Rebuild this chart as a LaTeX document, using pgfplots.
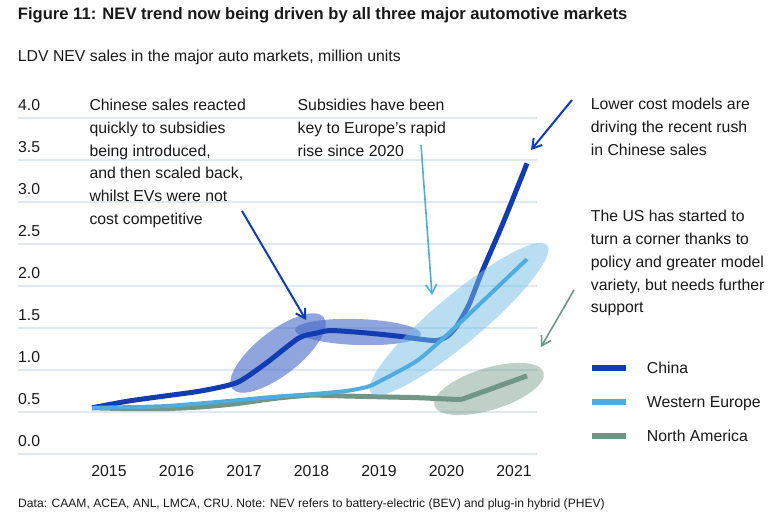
\documentclass[border=0pt]{standalone}
\usepackage{pgfplots}
\pgfplotsset{compat=1.18}
\usetikzlibrary{arrows.meta}
\usepackage{fontspec}
\setmainfont{Liberation Sans}

\definecolor{china}{RGB}{18,60,178}
\definecolor{chinahl}{RGB}{70,105,200}
\definecolor{europe}{RGB}{80,172,222}
\definecolor{namer}{RGB}{112,150,134}
\definecolor{gridc}{RGB}{221,234,244}
\definecolor{txt}{RGB}{25,25,25}
\newcommand\ann{\fontsize{15.8}{22.8}\selectfont}

\begin{document}
\begin{tikzpicture}[x=1pt,y=1pt]
\useasboundingbox (0,0) rectangle (780,521);

\begin{axis}[at={(18pt,67pt)}, anchor=south west,
    scale only axis, width=519pt, height=336pt,
    xmin=2013.979, xmax=2021.138, ymin=0, ymax=4,
    clip=false,
    axis line style={draw=none},
    major tick length=0pt,
    ytick={0,0.5,...,4},
    ymajorgrids,
    grid style={line width=2.5pt, gridc},
    xtick={2015.234,2016.166,2017.097,2018.028,2018.959,2019.890,2020.821},
    xticklabels={2015,2016,2017,2018,2019,2020,2021},
    /pgf/number format/fixed,
    /pgf/number format/fixed zerofill,
    /pgf/number format/precision=1,
    /pgf/number format/assume math mode=true,
    yticklabel style={anchor=west, inner sep=0pt, yshift=12.5pt, font=\ann, text=txt},
    xticklabel style={anchor=center, inner sep=0pt, yshift=-17pt, font=\ann, text=txt},
]
% highlight behind China
\fill[chinahl, opacity=0.6] (axis cs:2017.566,1.202) ellipse [x radius=58pt, y radius=22pt, rotate=38];
\fill[chinahl, opacity=0.6] (axis cs:2018.669,1.452) ellipse [x radius=63pt, y radius=13pt, rotate=-2];
\fill[namer, opacity=0.45] (axis cs:2020.476,0.774) ellipse [x radius=57pt, y radius=21pt, rotate=17];

% North America
\addplot[namer, line width=5pt, smooth, tension=0.4] coordinates {
(2015,0.55) (2015.5,0.54) (2016,0.54) (2016.5,0.56) (2017,0.60) (2017.5,0.66)
(2018,0.70) (2018.5,0.69) (2019,0.68) (2019.5,0.67) (2020,0.65) (2020.1,0.65)};
\addplot[namer, line width=5pt] coordinates {(2020.1,0.65) (2021,0.93)};

% China
\addplot[china, line width=5pt, smooth, tension=0.4] coordinates {
(2015,0.55) (2015.5,0.63) (2016,0.69) (2016.5,0.75) (2017,0.85) (2017.4,1.08)
(2017.85,1.38) (2018.1,1.44) (2018.3,1.47) (2018.8,1.44) (2019.25,1.40)
(2019.5,1.37) (2019.75,1.35) (2019.9,1.40) (2020.03,1.52) (2020.2,1.78)
(2020.37,2.15) (2020.67,2.75) (2021,3.46)};

% Europe highlight and line
\fill[europe!80!white, opacity=0.5] (axis cs:2020.062,1.607) ellipse [x radius=115pt, y radius=24pt, rotate=40];
\addplot[europe, line width=4pt, smooth, tension=0.4] coordinates {
(2015,0.55) (2016,0.57) (2017,0.64) (2017.5,0.68) (2018,0.71) (2018.5,0.75)
(2018.8,0.80) (2019,0.88) (2019.5,1.12) (2020,1.50) (2020.5,1.91) (2021,2.32)};
\end{axis}

% titles
\node[anchor=base west, inner sep=0pt, text=txt, font=\fontsize{16.6}{19}\selectfont\bfseries] at (17.7,501) {Figure 11: NEV trend now being driven by all three major automotive markets};
\node[anchor=base west, inner sep=0pt, text=txt, font=\fontsize{15.8}{18}\selectfont] at (17.7,459.3) {LDV NEV sales in the major auto markets, million units};
\node[anchor=base west, inner sep=0pt, text=txt, font=\fontsize{12.1}{14}\selectfont] at (18,13) {Data: CAAM, ACEA, ANL, LMCA, CRU. Note: NEV refers to battery-electric (BEV) and plug-in hybrid (PHEV)};

% annotations
\foreach \t [count=\i from 0] in {Chinese sales reacted, quickly to subsidies, {being introduced,}, {and then scaled back,}, whilst EVs were not, cost competitive}
  \node[anchor=base west, inner sep=0pt, text=txt, font=\ann] at (89.3,{410.5-22.8*\i}) {\t};
\foreach \t [count=\i from 0] in {Subsidies have been, key to Europe’s rapid, rise since 2020}
  \node[anchor=base west, inner sep=0pt, text=txt, font=\ann] at (297.5,{410.5-22.8*\i}) {\t};
\foreach \t [count=\i from 0] in {Lower cost models are, driving the recent rush, in Chinese sales}
  \node[anchor=base west, inner sep=0pt, text=txt, font=\ann] at (590.7,{411.2-22.8*\i}) {\t};
\foreach \t [count=\i from 0] in {The US has started to, turn a corner thanks to, policy and greater model, {variety, but needs further}, support}
  \node[anchor=base west, inner sep=0pt, text=txt, font=\ann] at (590.7,{299.3-22.8*\i}) {\t};

% arrows
\draw[china, line width=2pt, -{Straight Barb[length=9pt,width=11pt]}] (242,310) -- (306,201);
\draw[europe, line width=1.6pt, -{Straight Barb[length=9pt,width=11pt]}] (421,376) -- (432,226);
\draw[china, line width=2pt, -{Straight Barb[length=9pt,width=11pt]}] (572,421) -- (531,371);
\draw[namer, line width=1.6pt, -{Straight Barb[length=9pt,width=11pt]}] (574,231) -- (541,174);

% legend
\draw[china, line width=5.5pt] (592,153) -- (626,153);
\draw[europe, line width=5.5pt] (592,119) -- (626,119);
\draw[namer, line width=5.5pt] (592,85) -- (626,85);
\node[anchor=base west, inner sep=0pt, text=txt, font=\ann] at (646.7,147.5) {China};
\node[anchor=base west, inner sep=0pt, text=txt, font=\ann] at (646.7,113.5) {Western Europe};
\node[anchor=base west, inner sep=0pt, text=txt, font=\ann] at (646.7,79.5) {North America};
\end{tikzpicture}
\end{document}
